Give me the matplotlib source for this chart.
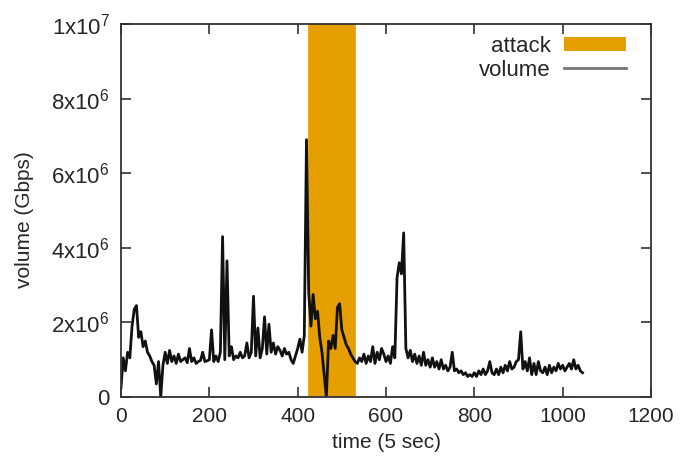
import numpy as np
import matplotlib
matplotlib.use("Agg")
import matplotlib.pyplot as plt
from matplotlib.ticker import FixedLocator
from matplotlib.patches import Patch
from matplotlib.lines import Line2D

plt.rcParams["font.family"] = ["Liberation Sans", "DejaVu Sans"]
plt.rcParams["mathtext.fontset"] = "custom"
plt.rcParams["mathtext.rm"] = "Liberation Sans"

# sample spacing of the volume trace (time units of 5 s)
step = 5

# traffic volume per interval, in units of 1e6
volume_0 = [0.25, 1.05, 0.7, 1.2, 1.05, 1.9, 2.35, 2.45, 1.6, 1.75,
            1.35, 1.5, 1.2, 1.1, 0.95, 0.85, 0.35, 0.95, 0.0, 0.85]
volume_100 = [1.2, 0.9, 1.25, 0.95, 1.1, 0.9, 1.15, 0.95, 1.0, 1.05,
              0.92, 1.3, 0.95, 1.05, 0.9, 0.95, 0.98, 1.2, 0.95, 0.97]
volume_200 = [1.0, 1.8, 0.95, 1.1, 0.95, 1.2, 4.3, 1.0, 3.65, 1.1,
              1.35, 1.0, 1.1, 1.05, 1.2, 1.05, 1.1, 1.45, 1.05, 1.2]
volume_300 = [2.7, 1.1, 1.85, 1.05, 1.3, 2.15, 1.15, 1.95, 1.2, 1.45,
              1.15, 1.35, 1.25, 1.1, 1.3, 1.15, 1.2, 1.0, 0.9, 1.1]
volume_400 = [1.3, 1.55, 1.2, 1.65, 6.9, 2.8, 1.9, 2.75, 2.1, 2.3,
              1.6, 1.2, 0.6, 0.0, 1.5, 1.3, 1.65, 1.3, 2.4, 2.5]
volume_500 = [1.8, 1.6, 1.4, 1.3, 1.15, 1.05, 0.95, 0.9, 1.05, 0.95,
              1.15, 0.9, 1.1, 0.95, 1.35, 0.9, 1.2, 1.0, 1.3, 1.15]
volume_600 = [0.95, 1.1, 0.9, 1.35, 1.05, 3.2, 3.6, 3.3, 4.4, 1.3,
              1.05, 1.25, 0.95, 1.15, 0.9, 1.1, 0.85, 1.2, 0.85, 1.0]
volume_700 = [0.8, 1.05, 0.8, 0.95, 0.75, 1.0, 0.75, 0.85, 0.7, 0.8,
              1.2, 0.7, 0.75, 0.65, 0.7, 0.6, 0.65, 0.55, 0.6, 0.55]
volume_800 = [0.65, 0.55, 0.7, 0.6, 0.75, 0.6, 0.7, 0.95, 0.65, 0.6,
              0.75, 0.6, 0.8, 0.65, 0.85, 0.7, 0.95, 0.75, 0.8, 0.95]
volume_900 = [1.0, 1.75, 0.75, 0.95, 0.7, 1.05, 0.6, 0.9, 0.6, 0.95,
              0.7, 0.65, 0.8, 0.6, 0.85, 0.65, 0.8, 0.7, 0.9, 0.75]
volume_1000 = [0.85, 0.7, 0.8, 0.9, 0.75, 1.0, 0.75, 0.85, 0.7, 0.65]

# attack window (time units) and the trace extent of the attack series
attack_start = 425
attack_end = 530
attack_trace_end = 1040
attack_level = 1e7

x_ticks = [0, 200, 400, 600, 800, 1000, 1200]
y_ticks = [0, 2e6, 4e6, 6e6, 8e6, 1e7]
y_tick_labels = ["0", r"$\mathregular{2x10^{6}}$", r"$\mathregular{4x10^{6}}$",
                 r"$\mathregular{6x10^{6}}$", r"$\mathregular{8x10^{6}}$",
                 r"$\mathregular{1x10^{7}}$"]

volume = np.array(volume_0 + volume_100 + volume_200 + volume_300 + volume_400 +
                  volume_500 + volume_600 + volume_700 + volume_800 + volume_900 +
                  volume_1000) * 1e6
time = np.arange(len(volume)) * step

attack_t = np.array([0, attack_start, attack_start, attack_end, attack_end, attack_trace_end])
attack_v = np.array([0, 0, attack_level, attack_level, 0, 0])

text_color = "#262626"
orange = "#E69F00"

fig = plt.figure(figsize=(6.81, 4.63), dpi=100)
ax = fig.add_axes([121 / 681, 1 - 397 / 463, 530 / 681, 373 / 463])

ax.fill_between(attack_t, 0, attack_v, color=orange, linewidth=0, zorder=1)
ax.plot(attack_t, attack_v, color=orange, linewidth=1.2, zorder=1.5)
ax.plot(time, volume, color="#111111", linewidth=2.0, zorder=3)

ax.set_xlim(0, 1200)
ax.set_ylim(0, 1e7)
ax.xaxis.set_major_locator(FixedLocator(x_ticks))
ax.set_xticklabels([str(t) for t in x_ticks])
ax.yaxis.set_major_locator(FixedLocator(y_ticks))
ax.set_yticklabels(y_tick_labels)

ax.tick_params(direction="in", length=7, width=1.2, colors="#333333",
               labelcolor=text_color, top=True, right=True)
ax.tick_params(axis="x", labelsize=15, pad=7)
ax.tick_params(axis="y", labelsize=16, pad=8)
for sp in ax.spines.values():
    sp.set_color("#333333")
    sp.set_linewidth(1.3)
    sp.set_zorder(4)

ax.set_xlabel("time (5 sec)", fontsize=15, color=text_color, labelpad=5)
ax.set_ylabel("volume (Gbps)", fontsize=15, color=text_color)
ax.yaxis.set_label_coords(-0.165, 0.475)

handles = [Patch(facecolor=orange, edgecolor="none"),
           Line2D([0], [0], color="#777777", linewidth=2)]
leg = fig.legend(handles, ["attack", "volume"], loc="upper right",
                 bbox_to_anchor=(626 / 681, 1 - 36 / 463), frameon=False,
                 markerfirst=False, fontsize=16, handlelength=2.8,
                 handleheight=0.63, handletextpad=0.6, labelspacing=0.12,
                 borderaxespad=0, borderpad=0)
for t in leg.get_texts():
    t.set_color(text_color)

fig.savefig("out.png", dpi=100)
